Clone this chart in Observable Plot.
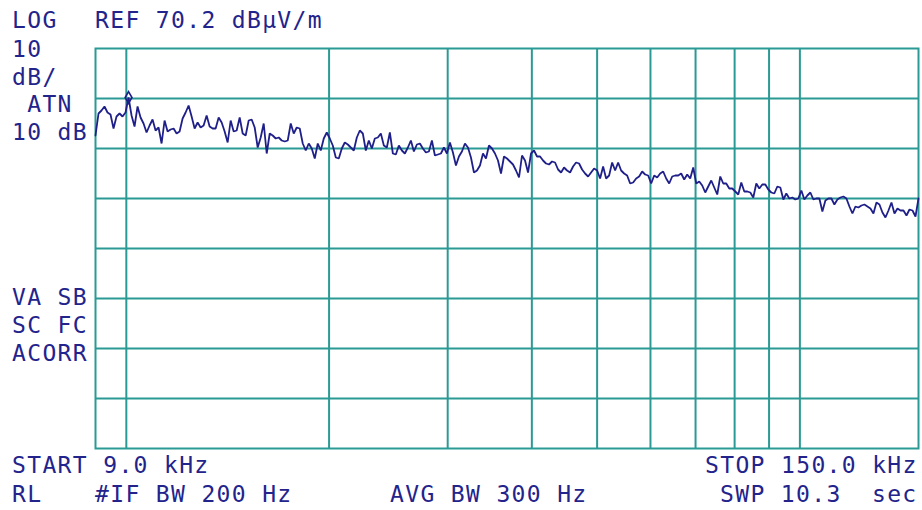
<!DOCTYPE html>
<html>
<head>
<meta charset="utf-8">
<script src="https://cdn.jsdelivr.net/npm/d3@7"></script>
<script src="https://cdn.jsdelivr.net/npm/@observablehq/plot@0.6"></script>
<style>
  html, body { margin: 0; padding: 0; background: #ffffff; }
  #chart { width: 922px; height: 510px; }
  text.lbl { font-family: "DejaVu Sans Mono", monospace; font-size: 23px; letter-spacing: 1.35px; fill: #23238c; white-space: pre; text-anchor: start; }
</style>
</head>
<body>
<div id="chart"></div>
<script>
// Sweep settings (kHz) and reference level (dBµV/m)
const START_KHZ = 9.0;
const STOP_KHZ = 150.0;
const REF_LEVEL = 70.2;
const DB_PER_DIV = 10;
const DIVISIONS = 8;

// Vertical graticule at decade steps (kHz)
const gridFreqs = [10, 20, 30, 40, 50, 60, 70, 80, 90, 100];
// Horizontal graticule (dBµV/m)
const gridLevels = [60.2, 50.2, 40.2, 30.2, 20.2, 10.2, 0.2];

// Trace levels (dBµV/m), read from the sweep, left to right
const traceLevels = [
  52.8, 57.2, 57.8, 58.6, 57.4, 57.0, 54.2, 56.6, 57.2, 56.6,
  57.4, 60.4, 56.8, 54.6, 58.6, 56.4, 55.2, 53.4, 54.8, 56.0,
  53.8, 54.4, 51.2, 55.8, 53.6, 54.0, 54.2, 53.2, 53.6, 56.2,
  57.4, 58.8, 56.6, 54.2, 55.4, 54.4, 54.8, 56.8, 54.6, 54.2,
  54.2, 56.4, 55.4, 53.6, 51.4, 55.8, 53.6, 53.8, 56.4, 53.2,
  52.8, 55.8, 56.0, 54.4, 50.4, 52.4, 55.2, 49.2, 53.2, 52.8,
  52.2, 52.4, 51.8, 51.6, 51.8, 55.2, 53.2, 54.4, 54.2, 51.2,
  49.8, 51.2, 50.2, 48.2, 51.2, 49.8, 52.2, 53.4, 52.2, 50.8,
  48.4, 48.2, 50.2, 51.4, 51.0, 50.4, 49.8, 52.4, 53.8, 53.2,
  49.8, 51.8, 50.2, 52.2, 52.4, 53.2, 50.8, 50.4, 53.4, 49.2,
  49.0, 50.8, 49.8, 49.2, 50.4, 51.8, 49.6, 51.0, 51.2, 50.2,
  49.4, 49.6, 51.8, 48.8, 49.0, 49.2, 50.4, 49.2, 51.4, 49.4,
  46.8, 48.6, 49.6, 51.2, 50.4, 48.4, 45.4, 45.8, 46.8, 49.2,
  48.2, 50.8, 50.2, 49.2, 47.8, 45.2, 48.6, 48.2, 47.6, 47.0,
  45.8, 44.4, 48.8, 47.8, 45.4, 49.2, 49.8, 48.6, 48.6, 47.8,
  47.2, 47.0, 47.6, 47.4, 46.0, 45.4, 46.4, 45.8, 45.4, 46.6,
  47.4, 47.2, 46.0, 45.2, 44.6, 45.4, 46.2, 45.8, 44.2, 46.6,
  44.2, 44.8, 47.4, 45.8, 47.4, 45.8, 45.2, 44.8, 43.2, 43.4,
  44.2, 44.6, 45.6, 45.0, 44.8, 43.2, 44.8, 44.4, 45.2, 45.6,
  44.2, 43.2, 44.6, 44.8, 44.8, 45.2, 44.0, 45.0, 44.2, 46.4,
  43.2, 43.6, 42.8, 41.4, 42.6, 43.8, 42.4, 41.0, 44.6, 43.2,
  43.2, 42.2, 42.2, 41.6, 41.0, 43.4, 41.6, 41.6, 41.4, 40.4,
  43.2, 42.2, 43.0, 43.0, 42.0, 41.4, 41.2, 42.6, 42.4, 40.0,
  41.2, 40.2, 40.4, 40.0, 40.2, 41.8, 40.0, 40.8, 41.4, 40.0,
  40.2, 40.2, 37.6, 39.8, 40.2, 40.2, 39.0, 40.0, 40.4, 40.6,
  40.2, 38.6, 37.2, 38.6, 38.4, 38.8, 39.0, 38.6, 38.2, 37.2,
  39.4, 39.0, 37.4, 36.4, 37.8, 39.4, 37.2, 38.2, 37.8, 37.8,
  36.8, 38.0, 37.8, 36.6, 40.2
];

// Marker placed on sweep point
const markerIndex = 11;

// Annotation texts
const labels = [
  ["LOG", 12, 28],
  ["REF 70.2 dBµV/m", 95, 28],
  ["10", 12, 57],
  ["dB/", 12, 85],
  [" ATN", 12, 112],
  ["10 dB", 12, 140],
  ["VA SB", 12, 305],
  ["SC FC", 12, 333],
  ["ACORR", 12, 361],
  ["START 9.0 kHz", 12, 473],
  ["STOP 150.0 kHz", 705, 473],
  ["RL", 12, 502],
  ["#IF BW 200 Hz", 95, 502],
  ["AVG BW 300 Hz", 390, 502],
  ["SWP 10.3  sec", 720, 502]
];

const N = traceLevels.length;
const trace = traceLevels.map((level, i) => ({
  f: START_KHZ * Math.pow(STOP_KHZ / START_KHZ, i / (N - 1)),
  level
}));
const marker = [trace[markerIndex]];

const GRID = "#2b9a94";
const INK = "#1f1f8a";

const svg = Plot.plot({
  width: 922,
  height: 510,
  marginLeft: 95,
  marginRight: 4,
  marginTop: 48,
  marginBottom: 62,
  style: { background: "#ffffff", overflow: "visible" },
  x: { type: "log", domain: [START_KHZ, STOP_KHZ], axis: null },
  y: { domain: [REF_LEVEL - DB_PER_DIV * DIVISIONS, REF_LEVEL], axis: null },
  marks: [
    Plot.ruleX(gridFreqs, { stroke: GRID, strokeWidth: 2 }),
    Plot.ruleY(gridLevels, { stroke: GRID, strokeWidth: 2 }),
    Plot.frame({ stroke: GRID, strokeWidth: 2 }),
    Plot.line(trace, { x: "f", y: "level", stroke: INK, strokeWidth: 1.8, strokeLinejoin: "miter" }),
    Plot.dot(marker, { x: "f", y: "level", symbol: "diamond", r: 3.6, stroke: INK, strokeWidth: 1.6, fill: "none" })
  ]
});

const g = d3.select(svg).append("g").attr("text-anchor", "start");
g.selectAll("text.lbl")
  .data(labels)
  .join("text")
  .attr("class", "lbl")
  .attr("text-anchor", "start")
  .attr("x", d => d[1])
  .attr("y", d => d[2])
  .attr("xml:space", "preserve")
  .text(d => d[0]);

document.getElementById("chart").appendChild(svg);
</script>
</body>
</html>
